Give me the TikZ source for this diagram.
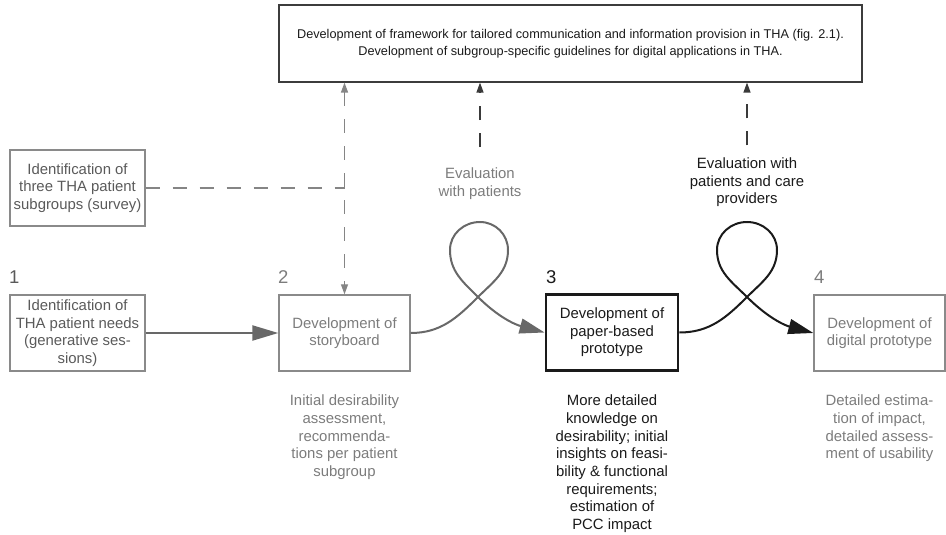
\documentclass[tikz,border=0pt]{standalone}
\usepackage{fontspec}
\setmainfont{Liberation Sans}
\usetikzlibrary{arrows.meta}

\definecolor{boxgrey}{HTML}{8A8A8A}
\definecolor{txtdark}{HTML}{5A5A5A}
\definecolor{txtlight}{HTML}{7C7C7C}
\definecolor{inkblack}{HTML}{1A1A1A}
\definecolor{flowgrey}{HTML}{686868}
\definecolor{dashgrey}{HTML}{858585}
\definecolor{dashdark}{HTML}{3A3A3A}

\newcommand{\bodysize}{\fontsize{14.9}{17.6}\selectfont}
\newcommand{\topsize}{\fontsize{12.7}{17}\selectfont}
\newcommand{\numsize}{\fontsize{18.5}{20}\selectfont}

\begin{document}
\begin{tikzpicture}[x=1pt,y=-1pt,
  stagebox/.style={draw=boxgrey, line width=1.4pt, minimum height=76pt,
    inner sep=0pt, align=center, font=\bodysize},
  keybox/.style={draw=inkblack, line width=2.8pt, text=inkblack},
  topbox/.style={draw=inkblack!85, line width=1.2pt, minimum width=583pt,
    minimum height=77pt, inner sep=0pt, align=center, font=\topsize, text=inkblack},
  numlabel/.style={font=\numsize, inner sep=0pt, anchor=base west},
  desc/.style={font=\bodysize, align=center, anchor=north, inner sep=0pt},
  evallabel/.style={font=\bodysize, align=center},
  flow/.style={draw=flowgrey, line width=2.2pt, -{Triangle[length=26pt,width=15pt]}},
  loopgrey/.style={draw=flowgrey, line width=2pt, -{Triangle[length=25pt,width=15pt]}},
  loopblack/.style={draw=inkblack, line width=2pt, -{Triangle[length=25pt,width=15pt]}},
  dashlink/.style={line width=1.3pt, dash pattern=on 14pt off 13pt}
]
\useasboundingbox (0,0) rectangle (946,535);

% results box at the top
\node[topbox] (framework) at (570.5,43.5)
  {Development of framework for tailored communication and information provision in THA (fig. 2.1).\\
   Development of subgroup-specific guidelines for digital applications in THA.};

% input from the survey
\node[stagebox, minimum width=135pt, text=txtdark] (subgroups) at (77.5,188)
  {Identification of\\three THA patient\\subgroups (survey)};

% the four stages
\node[stagebox, minimum width=135pt, text=txtdark] (needs) at (77.5,333)
  {Identification of\\THA patient needs\\(generative ses-\\sions)};
\node[stagebox, minimum width=131pt, text=txtlight] (story) at (344.5,333)
  {Development of\\storyboard};
\node[stagebox, keybox, minimum width=132pt] (paper) at (612,332.5)
  {Development of\\paper-based\\prototype};
\node[stagebox, minimum width=131pt, text=txtlight] (digital) at (879.5,333)
  {Development of\\digital prototype};

% stage numbers
\node[numlabel, text=txtdark] (num1) at (9,283) {1};
\node[numlabel, text=txtlight] (num2) at (278,283) {2};
\node[numlabel, text=inkblack] (num3) at (546,283) {3};
\node[numlabel, text=txtlight] (num4) at (814,283) {4};

% outcomes under the stages
\node[desc, text=txtlight] (out2) at (344.5,395)
  {Initial desirability\\assessment,\\recommenda-\\tions per patient\\subgroup};
\node[desc, text=inkblack] (out3) at (612,395)
  {More detailed\\knowledge on\\desirability; initial\\insights on feasi-\\bility \& functional\\requirements;\\estimation of\\PCC impact};
\node[desc, text=txtlight] (out4) at (879.5,395)
  {Detailed estima-\\tion of impact,\\detailed assess-\\ment of usability};

% evaluation labels
\node[evallabel, text=txtlight] (eval1) at (480,183.5) {Evaluation\\with patients};
\node[evallabel, text=inkblack] (eval2) at (747,182.5) {Evaluation with\\patients and care\\providers};

% main flow
\draw[flow] (needs.east) -- (story.west);

% evaluation loops
\coordinate (cross1) at (478,297);
\coordinate (right1) at (508,250);
\coordinate (top1) at (480,222);
\coordinate (left1) at (450,250);
\draw[loopgrey] (story.east) to[out=0,in=225] (cross1) to[out=45,in=270] (right1)
  to[out=90,in=0] (top1) to[out=180,in=90] (left1) to[out=270,in=135] (cross1)
  to[out=-45,in=165] (paper.west);

\coordinate (cross2) at (747,297);
\coordinate (right2) at (777,250);
\coordinate (top2) at (747,222);
\coordinate (left2) at (717,250);
\draw[loopblack] (paper.east) to[out=0,in=225] (cross2) to[out=45,in=270] (right2)
  to[out=90,in=0] (top2) to[out=180,in=90] (left2) to[out=270,in=135] (cross2)
  to[out=-45,in=165] (digital.west);

% dashed links to the framework box
\coordinate (join) at (story.north |- subgroups.east);
\draw[dashlink, draw=dashgrey] (subgroups.east) -- (join);
\draw[dashlink, draw=dashgrey, {Triangle[length=10pt,width=7pt]}-{Triangle[length=10pt,width=7pt]}, color=dashgrey]
  (story.north |- framework.south) -- (story.north);
\draw[dashlink, draw=dashdark, -{Triangle[length=10pt,width=7pt]}, color=dashdark, shorten <=17pt]
  (eval1.north) -- (eval1.north |- framework.south);
\draw[dashlink, draw=dashdark, -{Triangle[length=10pt,width=7pt]}, color=dashdark, shorten <=9pt]
  (eval2.north) -- (eval2.north |- framework.south);
\end{tikzpicture}
\end{document}
